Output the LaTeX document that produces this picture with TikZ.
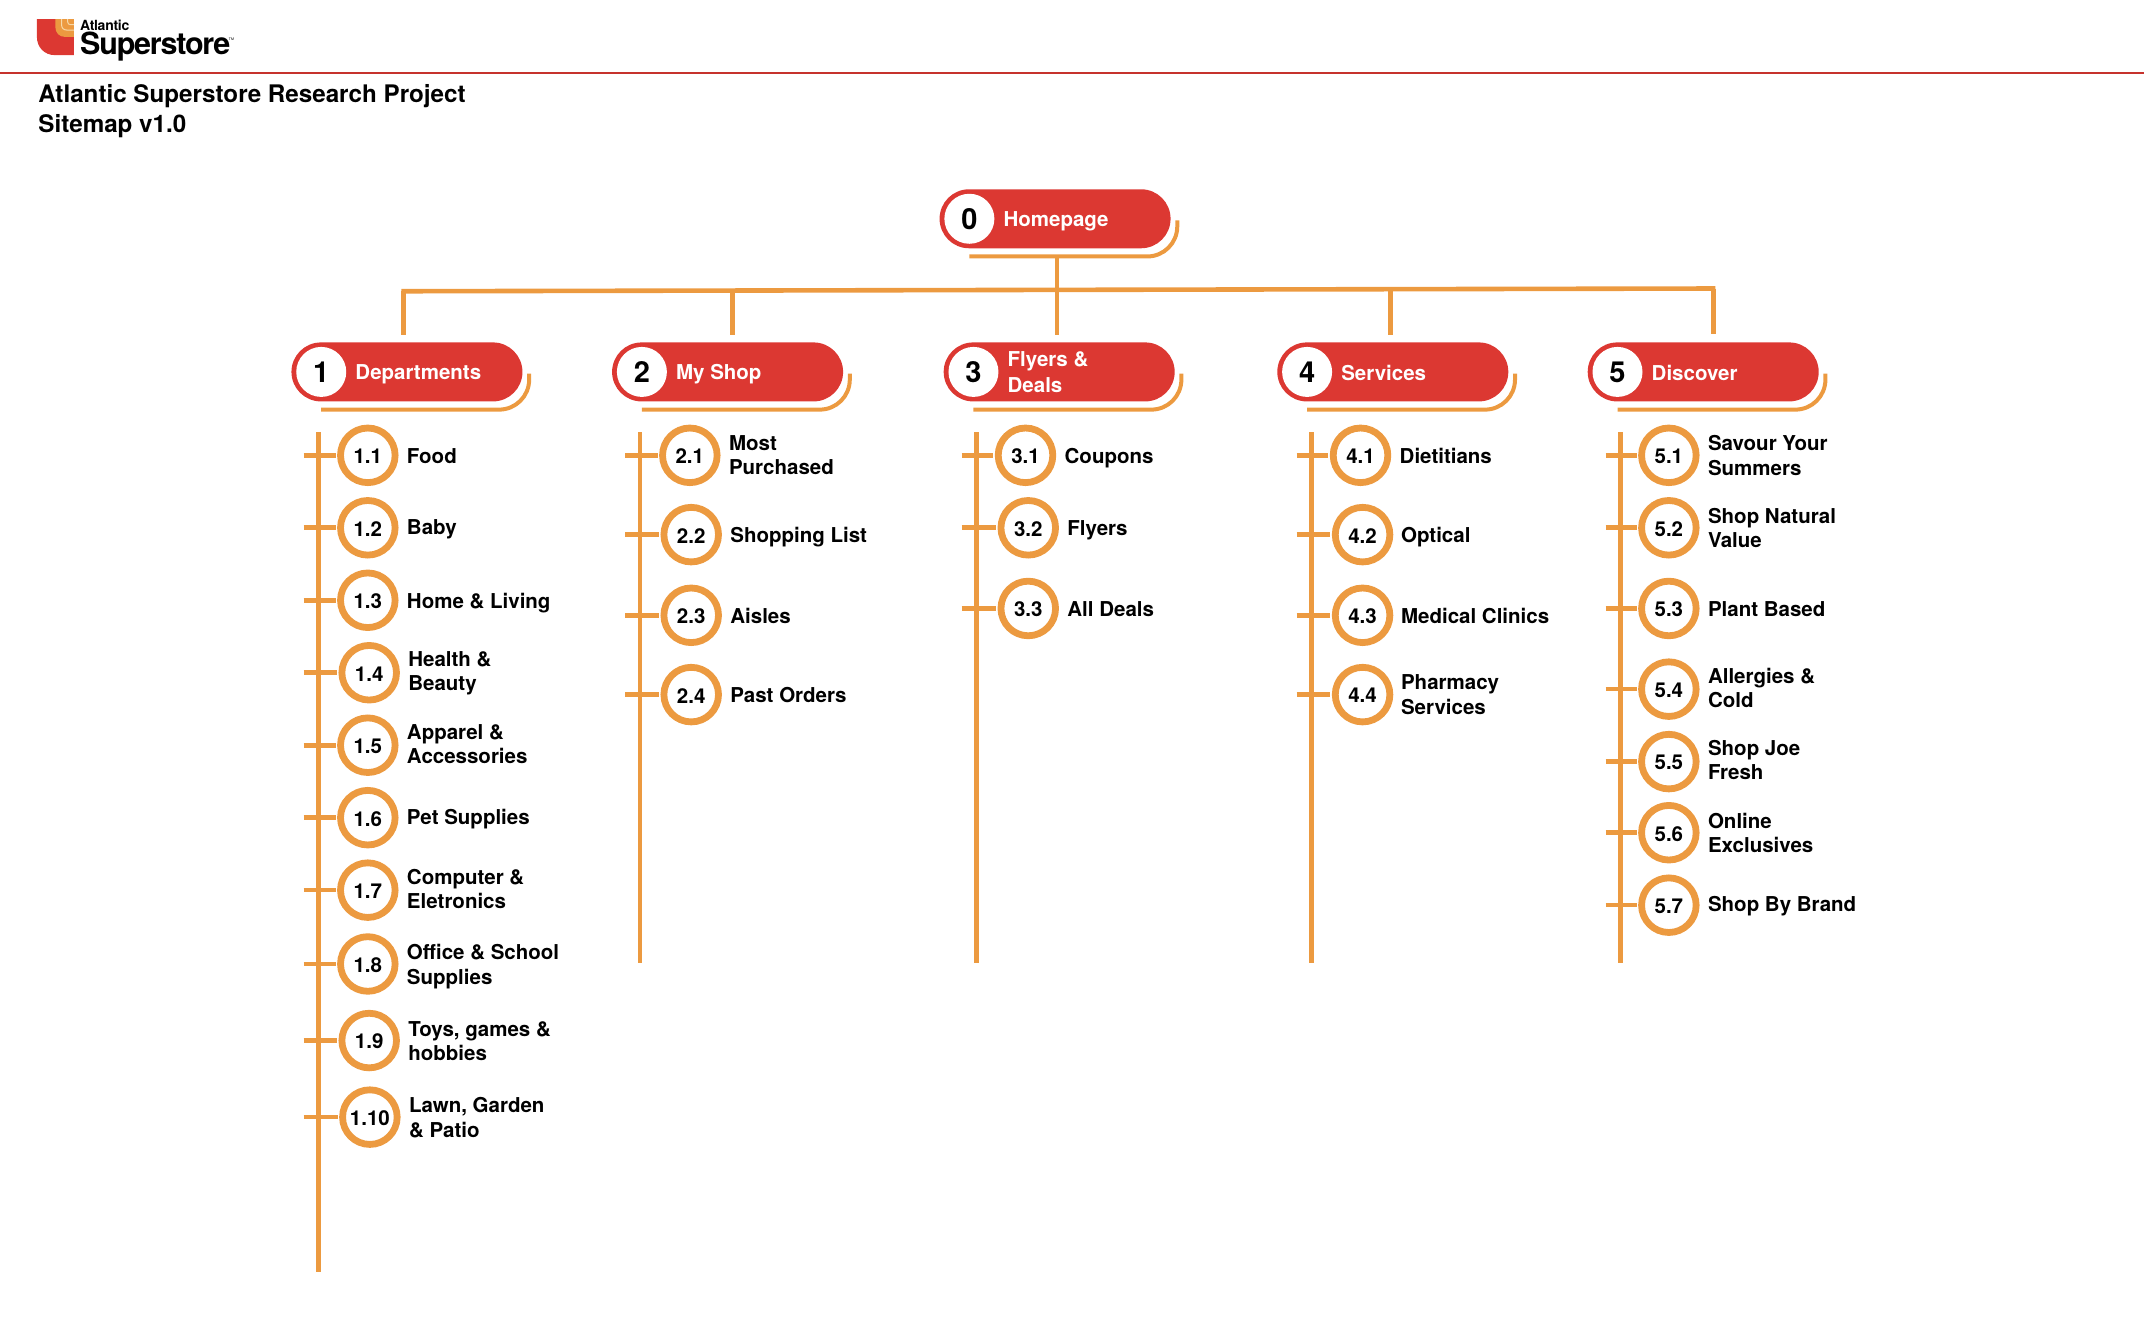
\documentclass[tikz,border=0pt]{standalone}
\usepackage{fontspec}
\setmainfont{TeX Gyre Heros}
\definecolor{sred}{HTML}{DC3832}
\definecolor{sorange}{HTML}{EC9A40}
\definecolor{spale}{HTML}{F7D9A8}
\tikzset{
  conn/.style={draw=sorange,line width=4.6pt},
  pill/.style={draw=none,fill=sred,rectangle,rounded corners=29.5pt,minimum width=231pt,minimum height=59pt,inner sep=0},
  pillnum/.style={circle,fill=white,draw=none,minimum size=50pt,inner sep=0,font=\fontsize{29}{29}\selectfont\bfseries,text=black},
  pilltext/.style={anchor=west,inner sep=0,align=left,text=white,font=\fontsize{20.5}{25.5}\selectfont\bfseries},
  ring/.style={circle,draw=sorange,fill=white,line width=6.8pt,minimum size=54.6pt,inner sep=0,font=\fontsize{20.5}{24}\selectfont\bfseries,text=black},
  leaf/.style={anchor=west,inner sep=0,align=left,text=black,font=\fontsize{20.5}{24.4}\selectfont\bfseries},
  titletext/.style={anchor=west,inner sep=0,align=left,text=black,font=\fontsize{24.2}{30}\selectfont\bfseries},
}
\newcommand{\pillnode}[6]{% name, x(left), y(centre), number, text, text dy
  \node[pill,anchor=west] (#1) at (#2,#3) {};
  \node[pillnum] (#1n) at ([xshift=30pt]#1.west) {#4};
  \node[pilltext] (#1t) at ([xshift=64pt,yshift=#6]#1.west) {#5};
  \draw[draw=sorange,line width=4pt,rounded corners=30pt]
    ([xshift=30pt,yshift=-8pt]#1.south west) -- ([xshift=6.5pt,yshift=-8pt]#1.south east) -- ([xshift=6.5pt,yshift=28pt]#1.south east);
}
\newcommand{\childnode}[7]{% name, x, y, number, text x, text y, text
  \node[ring] (#1) at (#2,#3) {\raisebox{-1pt}[\height][0pt]{#4}};
  \node[leaf] (#1t) at (#5,#6) {#7};
  \draw[conn] (\spinex-10.7,#3) -- ([xshift=-1.5pt]#1.west);
}
\begin{document}
\begin{tikzpicture}[x=1.36735pt,y=-1.36735pt]
\useasboundingbox (0,0) rectangle (1568,981.47);
% header
\coordinate (ruleL) at (0,53.4);
\coordinate (ruleR) at (1568,53.4);
\draw[draw=sred!90!black,line width=1.1pt] (ruleL) -- (ruleR);
% logo
\fill[sred] (27,13.9) -- (54.1,13.9) -- (54.1,40.3) -- (40,40.3) .. controls (32.5,40.3) and (27,34.5) .. (27,27) -- cycle;
\fill[sorange] (40.5,13.9) -- (54.1,13.9) -- (54.1,27) -- (47.5,27) .. controls (43.5,27) and (40.5,24) .. (40.5,20) -- cycle;
\draw[spale,line width=1pt] (45,13.9) -- (45,18) .. controls (45,20.5) and (46.5,22) .. (49,22) -- (54.1,22);
\draw[spale,line width=1pt] (49.5,13.9) -- (49.5,16) .. controls (49.5,17.3) and (50.3,18) .. (51.5,18) -- (54.1,18);
\node[anchor=base west,inner sep=0,font=\fontsize{14}{14}\selectfont\bfseries\addfontfeature{LetterSpace=-2}] (logoa) at (58.5,22) {Atlantic};
\node[anchor=base west,inner sep=0,font=\fontsize{30.5}{30.5}\selectfont\bfseries\addfontfeature{LetterSpace=-4}] (logob) at (58.5,40) {Superstore};
\node[anchor=base west,inner sep=0,font=\fontsize{3.5}{4}\selectfont] (logotm) at (167.3,29.5) {TM};
% title
\node[titletext] (title) at (28,81.5) {Atlantic Superstore Research Project\\Sitemap v1.0};
% top level
\pillnode{p0}{687}{160}{0}{Homepage}{-2.5pt}
\pillnode{p1}{213}{272}{1}{Departments}{-2.5pt}
\pillnode{p2}{447.5}{272}{2}{My Shop}{-2.5pt}
\pillnode{p3}{690}{272}{3}{Flyers \&\\Deals}{0pt}
\pillnode{p4}{934}{272}{4}{Services}{-1pt}
\pillnode{p5}{1161}{272}{5}{Discover}{-1pt}
% tree
\coordinate (barL) at (293.5,213);
\coordinate (barR) at (1254.5,211);
\coordinate (homeOut) at (773,188);
\coordinate (d1a) at (295,213);\coordinate (d1) at (295,245);
\coordinate (d2a) at (535.5,212.5);\coordinate (d2) at (535.5,245);
\coordinate (d3) at (773,245);
\coordinate (d4a) at (1017,211.5);\coordinate (d4) at (1017,245);
\coordinate (d5a) at (1253,211);\coordinate (d5) at (1253,244);
\draw[conn] (homeOut) -- (d3);
\draw[conn] (d1a) -- (d1);
\draw[conn] (d2a) -- (d2);
\draw[conn] (d4a) -- (d4);
\draw[conn] (d5a) -- (d5);
\draw[conn] (barL) -- (barR);
% spines
\coordinate (s1a) at (232.8,316);\coordinate (s1b) at (232.8,930);
\coordinate (s2a) at (468,316);\coordinate (s2b) at (468,704);
\coordinate (s3a) at (714,316);\coordinate (s3b) at (714,704);
\coordinate (s4a) at (959,316);\coordinate (s4b) at (959,704);
\coordinate (s5a) at (1185,316);\coordinate (s5b) at (1185,704);
\draw[conn] (s1a) -- (s1b);
\draw[conn] (s2a) -- (s2b);
\draw[conn] (s3a) -- (s3b);
\draw[conn] (s4a) -- (s4b);
\draw[conn] (s5a) -- (s5b);
% column 1
\def\spinex{232.8}
\childnode{c11}{269}{333}{1.1}{297.5}{333.5}{Food}
\childnode{c12}{269}{386}{1.2}{297.5}{387}{Baby}
\childnode{c13}{269}{439}{1.3}{297.5}{441}{Home \& Living}
\childnode{c14}{270}{492}{1.4}{298.5}{492.5}{Health \&\\Beauty}
\childnode{c15}{269}{545}{1.5}{297.5}{544}{Apparel \&\\Accessories}
\childnode{c16}{269}{598}{1.6}{297.5}{599}{Pet Supplies}
\childnode{c17}{269}{651}{1.7}{297.5}{650}{Computer \&\\Eletronics}
\childnode{c18}{269}{705}{1.8}{297.5}{707}{Office \& School\\Supplies}
\childnode{c19}{270}{761}{1.9}{298.5}{761.5}{Toys, games \&\\hobbies}
\childnode{c110}{270.5}{817}{1.10}{299}{817.5}{Lawn, Garden\\\& Patio}
% column 2
\def\spinex{468}
\childnode{c21}{504.5}{333}{2.1}{533}{333}{Most\\Purchased}
\childnode{c22}{505.5}{391}{2.2}{534}{392.5}{Shopping List}
\childnode{c23}{505.5}{450}{2.3}{534}{450.5}{Aisles}
\childnode{c24}{505.5}{508}{2.4}{534}{508}{Past Orders}
% column 3
\def\spinex{714}
\childnode{c31}{750}{333}{3.1}{778.5}{335}{Coupons}
\childnode{c32}{752}{386}{3.2}{780.5}{387.5}{Flyers}
\childnode{c33}{752}{445}{3.3}{780.5}{445.5}{All Deals}
% column 4
\def\spinex{959}
\childnode{c41}{995}{333}{4.1}{1023.5}{333.5}{Dietitians}
\childnode{c42}{996.5}{391}{4.2}{1024.5}{392.5}{Optical}
\childnode{c43}{996.5}{450}{4.3}{1024.5}{450.5}{Medical Clinics}
\childnode{c44}{996.5}{508}{4.4}{1024.5}{508}{Pharmacy\\Services}
% column 5
\def\spinex{1185}
\childnode{c51}{1220.5}{333}{5.1}{1249}{333}{Savour Your\\Summers}
\childnode{c52}{1220.5}{386}{5.2}{1249}{386}{Shop Natural\\Value}
\childnode{c53}{1220.5}{445}{5.3}{1249}{445.5}{Plant Based}
\childnode{c54}{1220.5}{504}{5.4}{1249}{503}{Allergies \&\\Cold}
\childnode{c55}{1220.5}{557}{5.5}{1249}{556}{Shop Joe\\Fresh}
\childnode{c56}{1220.5}{609}{5.6}{1249}{609}{Online\\Exclusives}
\childnode{c57}{1220.5}{662}{5.7}{1249}{662.5}{Shop By Brand}
\end{tikzpicture}
\end{document}
